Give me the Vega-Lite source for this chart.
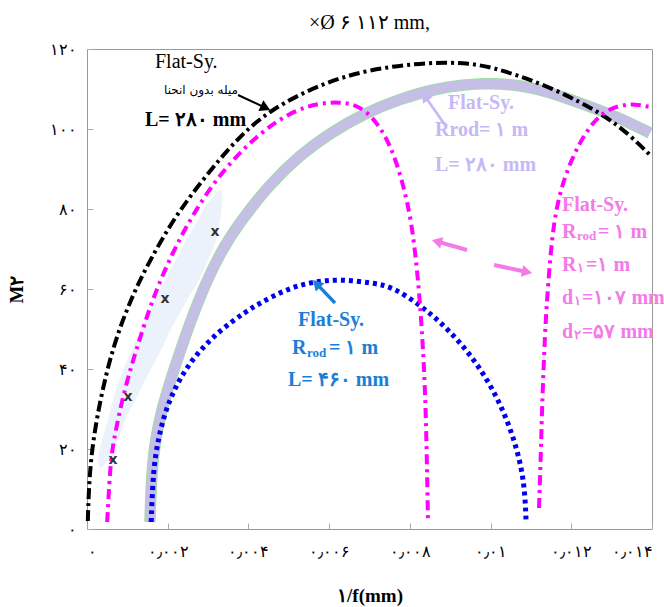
{
"$schema":"https://vega.github.io/schema/vega-lite/v6.json",
"autosize":{"type":"none"},
"padding":{"left":87,"top":49,"right":12,"bottom":78},
"width":565,"height":480,
"background":"white",
"config":{"view":{"stroke":"#999","strokeWidth":1}},
"title":{"text":"×Ø ۶ ۱۱۲ mm,","font":"Liberation Serif","fontSize":20,"fontWeight":"normal","color":"#000","offset":8},
"datasets":{
"curves":[
{"s":"k","x":0.00002,"y":2},{"s":"k","x":0.00007,"y":17.25},{"s":"k","x":0.00032,"y":32.25},{"s":"k","x":0.00064,"y":45.5},{"s":"k","x":0.00107,"y":57.25},{"s":"k","x":0.00156,"y":67.25},{"s":"k","x":0.00223,"y":79},{"s":"k","x":0.00312,"y":90.5},{"s":"k","x":0.00379,"y":98.25},{"s":"k","x":0.00453,"y":104.75},{"s":"k","x":0.00577,"y":111.25},{"s":"k","x":0.00701,"y":115},{"s":"k","x":0.0085,"y":116.75},{"s":"k","x":0.00949,"y":116.5},{"s":"k","x":0.01023,"y":115},{"s":"k","x":0.01155,"y":110.25},{"s":"k","x":0.01279,"y":103.75},{"s":"k","x":0.01345,"y":98.5},{"s":"k","x":0.01395,"y":93.5},
{"s":"lav","x":0.00156,"y":1.75},{"s":"lav","x":0.00161,"y":17.25},{"s":"lav","x":0.00181,"y":29},{"s":"lav","x":0.00223,"y":42.25},{"s":"lav","x":0.00273,"y":56.75},{"s":"lav","x":0.0033,"y":69.25},{"s":"lav","x":0.00379,"y":76.75},{"s":"lav","x":0.00453,"y":86.25},{"s":"lav","x":0.00528,"y":93.5},{"s":"lav","x":0.00602,"y":99},{"s":"lav","x":0.00689,"y":104},{"s":"lav","x":0.00776,"y":107.5},{"s":"lav","x":0.00857,"y":110},{"s":"lav","x":0.00981,"y":111.75},{"s":"lav","x":0.01105,"y":110.75},{"s":"lav","x":0.01229,"y":106.25},{"s":"lav","x":0.01321,"y":102.75},{"s":"lav","x":0.01395,"y":99},
{"s":"m1","x":0.0005,"y":1.75},{"s":"m1","x":0.00057,"y":14.75},{"s":"m1","x":0.00064,"y":21.5},{"s":"m1","x":0.00094,"y":35.5},{"s":"m1","x":0.00126,"y":46},{"s":"m1","x":0.00161,"y":57.25},{"s":"m1","x":0.00211,"y":69},{"s":"m1","x":0.00268,"y":79.75},{"s":"m1","x":0.00342,"y":90.5},{"s":"m1","x":0.00436,"y":99.75},{"s":"m1","x":0.00515,"y":104.75},{"s":"m1","x":0.00577,"y":106.5},{"s":"m1","x":0.00627,"y":106.75},{"s":"m1","x":0.00669,"y":106},{"s":"m1","x":0.00709,"y":103},{"s":"m1","x":0.00751,"y":96.5},{"s":"m1","x":0.00783,"y":86.5},{"s":"m1","x":0.00805,"y":76.5},{"s":"m1","x":0.0082,"y":63},{"s":"m1","x":0.0083,"y":49.75},{"s":"m1","x":0.00838,"y":34.75},{"s":"m1","x":0.00842,"y":18},{"s":"m1","x":0.00845,"y":1.5},
{"s":"m2","x":0.0112,"y":5.25},{"s":"m2","x":0.01125,"y":19.75},{"s":"m2","x":0.01127,"y":29},{"s":"m2","x":0.01135,"y":49.75},{"s":"m2","x":0.01142,"y":60.5},{"s":"m2","x":0.01155,"y":76.5},{"s":"m2","x":0.01179,"y":87.25},{"s":"m2","x":0.01222,"y":97.25},{"s":"m2","x":0.01271,"y":104},{"s":"m2","x":0.01321,"y":106},{"s":"m2","x":0.01358,"y":106.25},{"s":"m2","x":0.01395,"y":105.5},
{"s":"b","x":0.00159,"y":1.75},{"s":"b","x":0.00164,"y":14.75},{"s":"b","x":0.00176,"y":22.25},{"s":"b","x":0.00193,"y":29.25},{"s":"b","x":0.00223,"y":36.5},{"s":"b","x":0.00268,"y":43.5},{"s":"b","x":0.0033,"y":49.75},{"s":"b","x":0.00392,"y":54.25},{"s":"b","x":0.00429,"y":56.5},{"s":"b","x":0.0049,"y":59.75},{"s":"b","x":0.00553,"y":61.75},{"s":"b","x":0.00627,"y":62.5},{"s":"b","x":0.00709,"y":61.5},{"s":"b","x":0.00758,"y":60.5},{"s":"b","x":0.00825,"y":56},{"s":"b","x":0.00875,"y":51.75},{"s":"b","x":0.00924,"y":46.75},{"s":"b","x":0.00974,"y":40.25},{"s":"b","x":0.01016,"y":33},{"s":"b","x":0.01048,"y":25.5},{"s":"b","x":0.01073,"y":17.25},{"s":"b","x":0.01085,"y":9.75},{"s":"b","x":0.01088,"y":1.75}
],
"ellipse":[
{"x":0.00032,"x2":0.00036,"y":15.2},{"x":0.000297,"x2":0.000421,"y":16},{"x":0.000273,"x2":0.00052,"y":17.25},{"x":0.000372,"x2":0.000768,"y":22.25},{"x":0.00052,"x2":0.000942,"y":27.25},{"x":0.000644,"x2":0.00119,"y":32.25},{"x":0.000867,"x2":0.001536,"y":39},{"x":0.001115,"x2":0.001833,"y":44.75},{"x":0.001363,"x2":0.002106,"y":50.5},{"x":0.001685,"x2":0.002478,"y":57.25},{"x":0.001933,"x2":0.002775,"y":62.25},{"x":0.0022,"x2":0.003,"y":67.25},{"x":0.002503,"x2":0.003221,"y":73},{"x":0.00275,"x2":0.003295,"y":77.25},{"x":0.002998,"x2":0.003345,"y":81.5},{"x":0.003172,"x2":0.003345,"y":83.5},{"x":0.003271,"x2":0.003333,"y":84.75}
],
"xmarks":[{"x":0.000644,"y":17.25,"t":"x"},{"x":0.001016,"y":33,"t":"x"},{"x":0.001933,"y":57.5,"t":"x"},{"x":0.003172,"y":74.25,"t":"x"}],
"arrows":[
{"g":"k","x":0.003742,"y":108.5,"x2":0.004423,"y2":105.3,"ang":115},
{"g":"lav","x":0.008871,"y":101,"x2":0.008373,"y2":108.2,"ang":325},
{"g":"blue","x":0.006145,"y":56.5,"x2":0.005687,"y2":61.35,"ang":316},
{"g":"pink","x":0.009416,"y":69.75,"x2":0.008668,"y2":71.9,"ang":286},
{"g":"pink","x":0.010085,"y":66,"x2":0.010905,"y2":64.25,"ang":102}
],
"bold":[
{"g":"k","x":0.001437,"y":102.25,"t":"L= ۲۸۰ mm"},
{"g":"lav","x":0.008945,"y":106.5,"t":"Flat-Sy."},
{"g":"lav","x":0.008623,"y":99.75,"t":"Rrod= ۱ m"},
{"g":"lav","x":0.008623,"y":91,"t":"L= ۲۸۰ mm"},
{"g":"blue","x":0.005228,"y":52.25,"t":"Flat-Sy."},
{"g":"blue","x":0.00508,"y":45.25,"t":"R"},
{"g":"blue","x":0.005996,"y":45.25,"t":"= ۱ m"},
{"g":"blue","x":0.004981,"y":37.25,"t":"L= ۴۶۰ mm"},
{"g":"pink","x":0.01177,"y":81,"t":"Flat-Sy."},
{"g":"pink","x":0.01177,"y":74.25,"t":"R"},
{"g":"pink","x":0.012662,"y":74.25,"t":"= ۱ m"},
{"g":"pink","x":0.01177,"y":66,"t":"R"},
{"g":"pink","x":0.012365,"y":66,"t":"=۱ m"},
{"g":"pink","x":0.01177,"y":57.75,"t":"d"},
{"g":"pink","x":0.012266,"y":57.75,"t":"=۱۰۷ mm"},
{"g":"pink","x":0.01177,"y":49.25,"t":"d"},
{"g":"pink","x":0.012266,"y":49.25,"t":"=۵۷ mm"}
],
"subs":[
{"g":"blue","x":0.005451,"y":44,"t":"rod"},
{"g":"pink","x":0.012142,"y":73.25,"t":"rod"},
{"g":"pink","x":0.012142,"y":65.25,"t":"۱"},
{"g":"pink","x":0.012067,"y":57,"t":"۱"},
{"g":"pink","x":0.012067,"y":48.5,"t":"۲"}
],
"plain":[{"x":0.001685,"y":116.75,"t":"Flat-Sy."}],
"arabic":[{"x":0.003742,"y":109.75,"t":"میله بدون انحنا"}]
},
"encoding":{
"x":{"field":"x","type":"quantitative","scale":{"domain":[0,0.014],"nice":false,"zero":false},
"axis":{"title":"۱/f(mm)","values":[0,0.002,0.004,0.006,0.008,0.01,0.012,0.014],
"labelExpr":"['۰','۰٫۰۰۲','۰٫۰۰۴','۰٫۰۰۶','۰٫۰۰۸','۰٫۰۱','۰٫۰۱۲','۰٫۰۱۴'][round(datum.value/0.002)]",
"labelFont":"Liberation Serif","labelFontSize":16,"labelColor":"#000","labelPadding":20,"labelFlush":true,"labelOverlap":false,
"domain":false,"grid":false,"ticks":true,"tickSize":-6,"tickColor":"#aaa",
"titleFont":"Liberation Serif","titleFontSize":19,"titleFontWeight":"bold","titleColor":"#000","titlePadding":27}},
"y":{"field":"y","type":"quantitative","scale":{"domain":[0,120],"nice":false},
"axis":{"title":"M۲","values":[0,20,40,60,80,100,120],
"labelExpr":"['۰','۲۰','۴۰','۶۰','۸۰','۱۰۰','۱۲۰'][round(datum.value/20)]",
"labelFont":"Liberation Serif","labelFontSize":16,"labelColor":"#000","labelPadding":17,"labelFlush":false,"labelOverlap":false,
"domain":false,"grid":false,"ticks":true,"tickSize":-6,"tickColor":"#aaa",
"titleFont":"Liberation Serif","titleFontSize":19,"titleFontWeight":"bold","titleColor":"#000","titlePadding":23}}
},
"layer":[
{"data":{"name":"ellipse"},"mark":{"type":"area","orient":"horizontal","color":"#ebf2fb","interpolate":"monotone"},"encoding":{"x2":{"field":"x2"}}},
{"data":{"name":"curves"},"transform":[{"filter":"datum.s=='lav'"}],"mark":{"type":"line","color":"#9be39b","strokeWidth":11.5,"interpolate":"basis"},"encoding":{}},
{"data":{"name":"curves"},"transform":[{"filter":"datum.s=='lav'"}],"mark":{"type":"line","color":"#c5bfe6","strokeWidth":10,"interpolate":"basis"},"encoding":{}},
{"data":{"name":"curves"},"transform":[{"filter":"datum.s=='k'"}],"mark":{"type":"line","color":"#000","strokeWidth":4,"strokeDash":[11,4,3,4],"interpolate":"basis"},"encoding":{}},
{"data":{"name":"curves"},"transform":[{"filter":"datum.s=='b'"}],"mark":{"type":"line","color":"#0000ee","strokeWidth":5,"strokeDash":[4,4],"interpolate":"basis"},"encoding":{}},
{"data":{"name":"curves"},"transform":[{"filter":"datum.s=='m1' || datum.s=='m2'"}],"mark":{"type":"line","color":"#ff00ff","strokeWidth":4,"strokeDash":[10,5,3,5],"interpolate":"basis"},"encoding":{"detail":{"field":"s"}}},
{"data":{"name":"xmarks"},"mark":{"type":"text","font":"DejaVu Sans","fontSize":14,"fontWeight":"bold","color":"#333","baseline":"middle"},"encoding":{"text":{"field":"t"}}},
{"data":{"name":"arrows"},"mark":{"type":"rule"},"encoding":{"x2":{"field":"x2"},"y2":{"field":"y2"},
"color":{"field":"g","type":"nominal","scale":{"domain":["k","lav","blue","pink"],"range":["#000000","#c6b8f5","#1a7fd6","#f37be8"]},"legend":null},
"strokeWidth":{"field":"g","type":"nominal","scale":{"domain":["k","lav","blue","pink"],"range":[2,4,4,4]},"legend":null}}},
{"data":{"name":"arrows"},"mark":{"type":"point","shape":"triangle-up","filled":true,"size":140,"opacity":1},"encoding":{"x":{"field":"x2","type":"quantitative"},"y":{"field":"y2","type":"quantitative"},
"angle":{"field":"ang","type":"quantitative","scale":null},
"color":{"field":"g","type":"nominal","legend":null}}},
{"data":{"name":"bold"},"mark":{"type":"text","font":"Liberation Serif","fontSize":20,"fontWeight":"bold","align":"left","baseline":"middle"},"encoding":{"text":{"field":"t"},"color":{"field":"g","type":"nominal","legend":null}}},
{"data":{"name":"subs"},"mark":{"type":"text","font":"Liberation Serif","fontSize":13,"fontWeight":"bold","align":"left","baseline":"middle"},"encoding":{"text":{"field":"t"},"color":{"field":"g","type":"nominal","legend":null}}},
{"data":{"name":"plain"},"mark":{"type":"text","font":"Liberation Serif","fontSize":20,"fontWeight":"normal","align":"left","baseline":"middle","color":"#000"},"encoding":{"text":{"field":"t"}}},
{"data":{"name":"arabic"},"mark":{"type":"text","font":"DejaVu Sans","fontSize":12,"align":"right","baseline":"middle","color":"#000"},"encoding":{"text":{"field":"t"}}}
]
}
